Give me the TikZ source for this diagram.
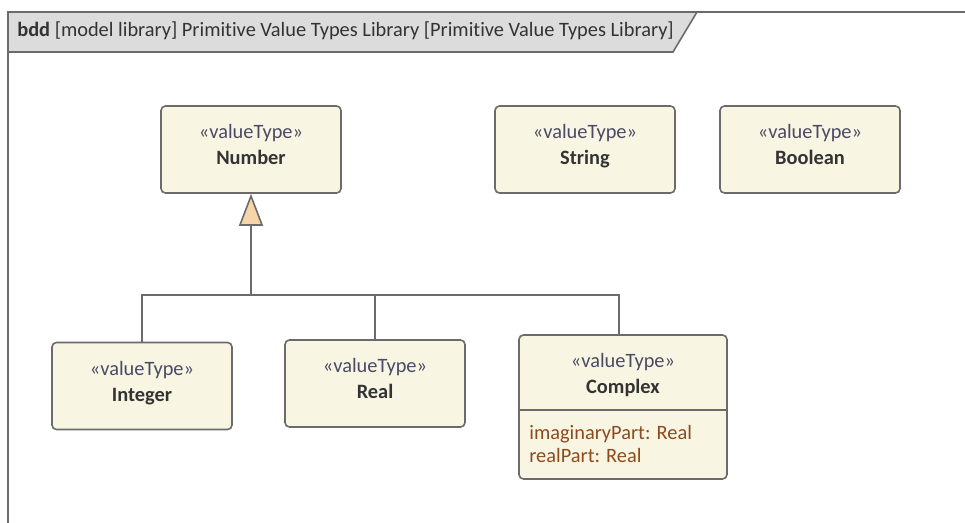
\documentclass[tikz,border=0pt]{standalone}
\usepackage{fontspec}
\setmainfont{Carlito}[Ligatures=NoCommon]
\usepackage{tikz}
\usetikzlibrary{arrows.meta, positioning}

\definecolor{boxfill}{HTML}{F8F6E3}
\definecolor{boxline}{HTML}{6B6B6B}
\definecolor{stereo}{HTML}{4A4A66}
\definecolor{attr}{HTML}{8E4A1E}
\definecolor{genfill}{HTML}{F6D6A9}
\definecolor{headfill}{HTML}{DCDCDC}

\begin{document}
\begin{tikzpicture}[x=0.02cm, y=-0.02cm,
	vt/.style={draw=boxline, fill=boxfill, rounded corners=2.5pt, line width=0.9pt, minimum width=3.6cm, minimum height=1.74cm, align=center, font=\fontsize{11.6}{15}\selectfont, text=black!80, text depth=5.5pt},
	line/.style={draw=boxline, line width=0.9pt},
	gen/.style={line, -{Triangle[width=0.48cm, length=0.64cm, fill=genfill]}}]
	\useasboundingbox (0,0) rectangle (965,522);
	% frame and header
	\draw[line] (8,540) -- (8,12) -- (980,12);
	\filldraw[line, fill=headfill] (8,12) -- (697,12) -- (673,52) -- (8,52) -- cycle;
	\node[anchor=west, font=\fontsize{11.6}{13}\selectfont, text=black!80, inner sep=0pt] (title) at (17,31) {\textbf{bdd} [model library] Primitive Value Types Library [Primitive Value Types Library]};
	
	% value types
	\node[vt] (num) at (251,149.5) {\textcolor{stereo}{«valueType»}\\\textbf{Number}};
	\node[vt] (str) at (585,149.5) {\textcolor{stereo}{«valueType»}\\\textbf{String}};
	\node[vt] (bool) at (810,149.5) {\textcolor{stereo}{«valueType»}\\\textbf{Boolean}};
	\node[vt] (int) at (142,386) {\textcolor{stereo}{«valueType»}\\\textbf{Integer}};
	\node[vt] (real) at (375,383.5) {\textcolor{stereo}{«valueType»}\\\textbf{Real}};
	\node[vt, minimum width=4.16cm, minimum height=2.88cm] (cplx) at (623,407) {};
	\node[align=center, font=\fontsize{11.6}{15}\selectfont, text=black!80] (cplxname) at (623,375) {\textcolor{stereo}{«valueType»}\\\textbf{Complex}};
	\draw[line] (cplx.west |- 0,410) -- (cplx.east |- 0,410);
	\node[anchor=west, align=left, font=\fontsize{11.6}{13.5}\selectfont, text=attr, inner sep=0pt] (cplxattr) at (529,444) {imaginaryPart: Real\\realPart: Real};
	
	% generalization
	\coordinate (bus) at (251,295);
	\draw[line] (int.north) |- (bus);
	\draw[line] (real.north) -- (real.north |- bus);
	\draw[line] ([xshift=-0.08cm]cplx.north) |- (bus);
	\draw[gen] (bus) -- (num.south);
\end{tikzpicture}
\end{document}
